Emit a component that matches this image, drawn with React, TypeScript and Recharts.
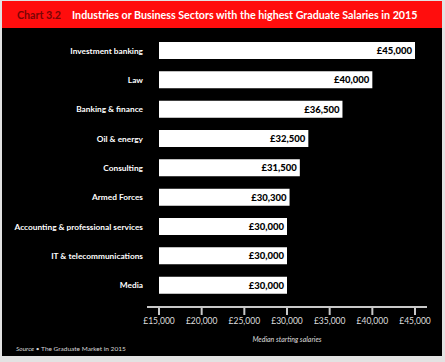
import { BarChart, Bar, XAxis, YAxis, LabelList } from 'recharts';

const sectors = [
  'Investment banking',
  'Law',
  'Banking & finance',
  'Oil & energy',
  'Consulting',
  'Armed Forces',
  'Accounting & professional services',
  'IT & telecommunications',
  'Media',
];
const salaries = [45000, 40000, 36500, 32500, 31500, 30300, 30000, 30000, 30000];
const salaryTicks = [15000, 20000, 25000, 30000, 35000, 40000, 45000];

const FONT = 'Lato, "Open Sans", sans-serif';
const fmtPounds = (v: number) => `£${v.toLocaleString('en-GB')}`;

const chartData = sectors.map((name, i) => ({
  name,
  salary: salaries[i],
  label: fmtPounds(salaries[i]),
}));

function SectorTick({ x, y, payload }: any) {
  return (
    <text
      x={x + 4}
      y={y}
      dy="0.35em"
      textAnchor="end"
      fill="#ffffff"
      fontFamily={FONT}
      fontWeight={700}
      fontSize={8.3}
    >
      {payload.value}
    </text>
  );
}

export default function App() {
  return (
    <div style={{ position: 'absolute', left: 0, top: 0, width: 445, height: 362, background: '#e2e2e2', fontFamily: FONT }}>
      <div
        style={{
          position: 'absolute',
          left: 2,
          top: 1,
          width: 440,
          height: 27,
          background: '#ff0d0d',
          display: 'flex',
          alignItems: 'center',
          fontWeight: 700,
          fontSize: 10.7,
          whiteSpace: 'nowrap',
        }}
      >
        <span style={{ color: '#7a0505', marginLeft: 15 }}>Chart 3.2</span>
        <span style={{ color: '#ffffff', marginLeft: 11 }}>
          Industries or Business Sectors with the highest Graduate Salaries in 2015
        </span>
      </div>
      <div style={{ position: 'absolute', left: 2, top: 28, width: 440, height: 328, background: '#000000' }} />
      <div style={{ position: 'absolute', left: 16, top: 345, color: '#d8d8d8', fontSize: 6.5, whiteSpace: 'nowrap' }}>
        <i>Source</i> • The Graduate Market in 2015
      </div>
      <div style={{ position: 'absolute', left: 0, top: 0 }}>
        <BarChart
          width={445}
          height={362}
          layout="vertical"
          data={chartData}
          margin={{ top: 36, right: 18, bottom: 15, left: 0 }}
        >
          <XAxis
            type="number"
            domain={[15000, 45000]}
            ticks={salaryTicks}
            padding={{ left: 12, right: 12 }}
            tickFormatter={fmtPounds}
            height={40}
            stroke="#c8c8c8"
            strokeWidth={2}
            tickSize={8}
            tickMargin={3}
            tick={{ fill: '#dedede', fontSize: 8.5, fontFamily: FONT }}
            label={{
              value: 'Median starting salaries',
              position: 'insideBottom',
              offset: 5,
              fill: '#dedede',
              fontSize: 7,
              fontStyle: 'italic',
              fontFamily: FONT,
            }}
          />
          <YAxis
            type="category"
            dataKey="name"
            width={147}
            axisLine={false}
            tickLine={false}
            padding={{ top: 0, bottom: 7 }}
            tick={<SectorTick />}
            interval={0}
          />
          <Bar dataKey="salary" fill="#ffffff" barSize={17} isAnimationActive={false}>
            <LabelList
              dataKey="label"
              position="insideRight"
              offset={3}
              fill="#000000"
              fontWeight={900}
              fontSize={9.5}
              fontFamily={FONT}
            />
          </Bar>
        </BarChart>
      </div>
    </div>
  );
}
